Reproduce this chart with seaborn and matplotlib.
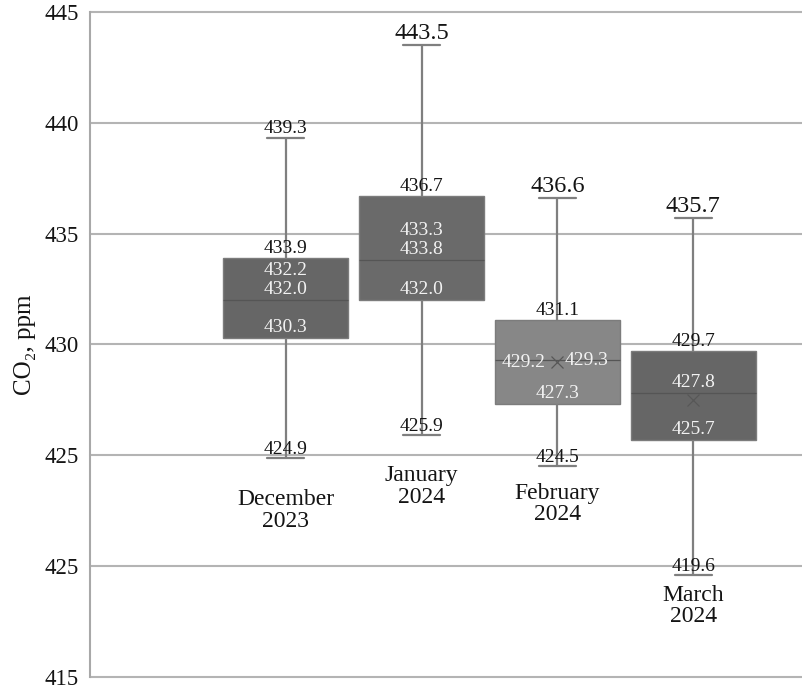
import numpy as np
import pandas as pd
import matplotlib
matplotlib.use("Agg")
import matplotlib.pyplot as plt
import seaborn as sns

# Monthly CO2 five-number summaries and means (ppm)
months = ["December\n2023", "January\n2024", "February\n2024", "March\n2024"]
co2_min = [424.9, 425.9, 424.5, 419.6]
co2_q1 = [430.3, 432.0, 427.3, 425.7]
co2_median = [432.0, 433.8, 429.3, 427.8]
co2_q3 = [433.9, 436.7, 431.1, 429.7]
co2_max = [439.3, 443.5, 436.6, 435.7]
co2_mean = [432.2, 433.3, 429.2, 427.5]
mean_labelled = [True, True, True, False]
mean_marked = [False, False, True, True]

y_ticks = [415, 420, 425, 430, 435, 440, 445]
y_tick_labels = ["415", "425", "425", "430", "435", "440", "445"]

# Styling / layout
box_colors = ["#666666", "#6a6a6a", "#878787", "#666666"]
month_label_y = [422.5, 423.6, 422.8, 418.2]
max_label_size = [14, 17.5, 17.5, 17.5]
mean_label_mode = ["stack", "stack", "side", None]

sns.set_style("white")
serif = ["Liberation Serif", "DejaVu Serif"]
plt.rcParams["font.family"] = serif

df = pd.DataFrame({
    "month": np.repeat(months, 5),
    "co2": np.ravel(np.column_stack([co2_min, co2_q1, co2_median, co2_q3, co2_max])),
})

fig = plt.figure(figsize=(8.02, 6.93), dpi=100)
ax = fig.add_axes([0.1122, 0.0231, 0.8878, 0.9596])

sns.boxplot(
    data=df, x="month", y="co2", hue="month", order=months, hue_order=months,
    palette=box_colors, legend=False, whis=np.inf, width=0.92, ax=ax,
    saturation=1, capwidths=0.27,
    boxprops=dict(edgecolor="#7c7c7c", linewidth=1.0),
    whiskerprops=dict(color="#7f7f7f", linewidth=1.6),
    capprops=dict(color="#7f7f7f", linewidth=1.6),
    medianprops=dict(color="#555555", linewidth=0.9),
)

positions = np.arange(len(months))
marked = np.array(mean_marked)
ax.plot(positions[marked], np.array(co2_mean)[marked], linestyle="none",
        marker="x", markersize=8, markeredgewidth=0.9, color="#575757", zorder=5)

black = "#141414"
white = "#f2f2f2"
small = 14


def put(x, y, text, dy=0, dx=0, color=black, size=small, va="bottom"):
    ax.annotate(text, (x, y), xytext=(dx, dy), textcoords="offset pixels",
                ha="center", va=va, color=color, fontsize=size, zorder=6)


for i in positions:
    put(i, co2_max[i], f"{co2_max[i]:.1f}", dy=1, size=max_label_size[i])
    put(i, co2_q3[i], f"{co2_q3[i]:.1f}", dy=1)
    put(i, co2_q1[i], f"{co2_q1[i]:.1f}", dy=2, color=white)
    put(i, co2_min[i], f"{co2_min[i]:.1f}", dy=0)
    mode = mean_label_mode[i]
    if mode == "side":
        put(i, co2_median[i], f"{co2_median[i]:.1f}", dx=29, color=white, va="center")
        if mean_labelled[i]:
            put(i, co2_mean[i], f"{co2_mean[i]:.1f}", dx=-34, color=white, va="center")
    else:
        put(i, co2_median[i], f"{co2_median[i]:.1f}", dy=2, color=white)
        if mean_labelled[i]:
            put(i, co2_median[i], f"{co2_mean[i]:.1f}", dy=21, color=white)
    ax.text(i, month_label_y[i], months[i], ha="center", va="center",
            fontsize=17, color=black, linespacing=1.05)

ax.set_xlim(-1.44, 3.80)
ax.set_ylim(415, 445)
ax.set_yticks(y_ticks)
ax.set_yticklabels(y_tick_labels, fontsize=16.5, color=black)
ax.set_xticks([])
ax.set_xlabel("")
ax.set_ylabel("CO₂, ppm", fontsize=18, color=black, labelpad=6)
ax.tick_params(axis="y", length=0, pad=8)

ax.yaxis.grid(True, color="#b4b4b4", linewidth=1.5)
for gl in ax.get_ygridlines():
    gl.set_clip_on(False)
ax.set_axisbelow(True)
for side in ["top", "right", "bottom"]:
    ax.spines[side].set_visible(False)
ax.spines["left"].set_color("#a8a8a8")
ax.spines["left"].set_linewidth(1.5)

fig.savefig("out.png", dpi=100)
